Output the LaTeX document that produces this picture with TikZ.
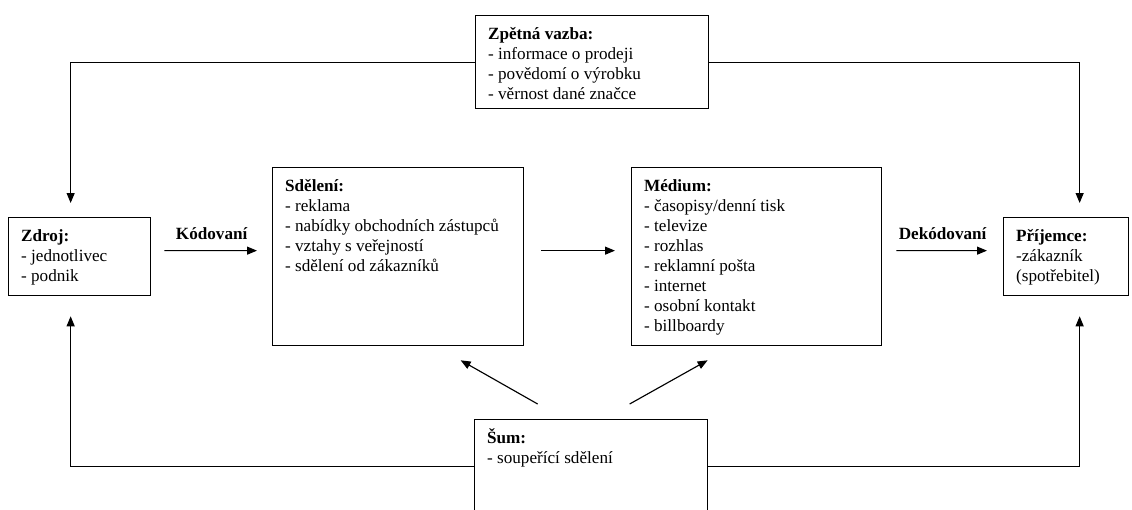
\documentclass[tikz,border=0pt]{standalone}
\usepackage{fontspec}
\setmainfont{Liberation Serif}
\usepackage{tikz}
\usetikzlibrary{arrows.meta,positioning}
\newcommand{\nadpis}[1]{\rule{0pt}{10.5pt}\textbf{#1}}
\newcommand{\obsah}[3]{\parbox[c][#2][t]{#1}{#3}}

\begin{document}
\begin{tikzpicture}[x=0.7pt,y=0.7pt,>={Triangle[length=7pt,width=5.6pt]},
  blok/.style={draw,line width=0.9pt,anchor=north west,inner xsep=8.75pt,inner ysep=6pt,
    font=\fontsize{12}{14}\selectfont},
  spoj/.style={line width=0.8pt,->},
  stitek/.style={font=\fontsize{12}{14}\selectfont\bfseries,inner sep=0pt}]
  \useasboundingbox (0,0) rectangle (1132,-509);
  % boxes
  \node[blok] (zpetna) at (475,-15) {\obsah{145.6pt}{53.1pt}{\nadpis{Zpětná vazba:}\\- informace o prodeji\\- povědomí o výrobku\\- věrnost dané značce}};
  \node[blok] (zdroj) at (8,-217) {\obsah{81.9pt}{42.6pt}{\nadpis{Zdroj:}\\- jednotlivec\\- podnik}};
  \node[blok] (sdeleni) at (272,-167) {\obsah{158.2pt}{112.6pt}{\nadpis{Sdělení:}\\- reklama\\- nabídky obchodních zástupců\\- vztahy s veřejností\\- sdělení od zákazníků}};
  \node[blok] (medium) at (631,-167) {\obsah{157.5pt}{112.6pt}{\nadpis{Médium:}\\- časopisy/denní tisk\\- televize\\- rozhlas\\- reklamní pošta\\- internet\\- osobní kontakt\\- billboardy}};
  \node[blok] (prijemce) at (1003,-217) {\obsah{70pt}{42.6pt}{\nadpis{Příjemce:}\\-zákazník\\(spotřebitel)}};
  \node[blok] (sum) at (474,-419) {\obsah{145.6pt}{53.8pt}{\nadpis{Šum:}\\- soupeřící sdělení}};
  % feedback loop
  \draw[spoj,shorten >=9.8pt] (zpetna.west) -| ([xshift=-6.3pt]zdroj.north);
  \draw[spoj,shorten >=9.8pt] (zpetna.east) -| ([xshift=9.45pt]prijemce.north);
  \draw[spoj,shorten >=14pt] (sum.west) -| ([xshift=-6.3pt]zdroj.south);
  \draw[spoj,shorten >=14pt] (sum.east) -| ([xshift=9.45pt]prijemce.south);
  % main chain
  \draw[spoj,shorten <=9.1pt,shorten >=10.5pt] ([yshift=4.2pt]zdroj.east) -- ([yshift=4.2pt]sdeleni.west)
    node[midway,above=7.5pt,stitek] (kod) {Kódovaní};
  \draw[spoj,shorten <=11.9pt,shorten >=11.2pt] ([yshift=4.2pt]sdeleni.east) -- ([yshift=4.2pt]medium.west);
  \draw[spoj,shorten <=9.8pt,shorten >=11.2pt] ([yshift=4.2pt]medium.east) -- ([yshift=4.2pt]prijemce.west)
    node[midway,above=7.5pt,stitek] (dekod) {Dekódovaní};
  % noise
  \draw[spoj] ([shift={(-53.5,15)}]sum.north) -- ([shift={(62.5,-14)}]sdeleni.south);
  \draw[spoj] ([shift={(38.5,15)}]sum.north) -- ([shift={(-49,-14)}]medium.south);
\end{tikzpicture}
\end{document}
